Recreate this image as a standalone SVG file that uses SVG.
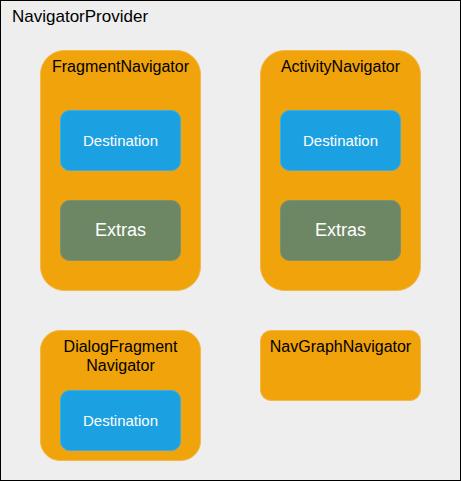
<svg xmlns="http://www.w3.org/2000/svg" width="461" height="481" viewBox="0 0 461 481">
<style>
.nav{fill:#f0a30a;stroke:#f2b84a;stroke-width:1}
.dest{fill:#1ba1e2;stroke:#3aaee6;stroke-width:1}
.ext{fill:#6d8764;stroke:#7a9270;stroke-width:1}
text{font-family:"Liberation Sans",Arial,sans-serif;text-anchor:middle}
.lbl{font-size:16px;fill:#000}
.dt{font-size:15px;fill:#fff}
.et{font-size:18px;fill:#fff}
</style>
<rect x="0.5" y="0.5" width="460" height="480" fill="#eeeeee" stroke="#000" stroke-width="1"/>
<text x="12" y="22" style="font-size:17px;text-anchor:start;fill:#000">NavigatorProvider</text>
<g id="fragmentNavigator">
<rect class="nav" x="40.5" y="50.5" width="160" height="240" rx="24"/>
<text class="lbl" x="120.5" y="72">FragmentNavigator</text>
</g>
<g id="fragmentDestination">
<rect class="dest" x="60.5" y="110.5" width="120" height="60" rx="9"/>
<text class="dt" x="120.5" y="145.5">Destination</text>
</g>
<g id="fragmentExtras">
<rect class="ext" x="60.5" y="200.5" width="120" height="60" rx="9"/>
<text class="et" x="120.5" y="236">Extras</text>
</g>
<g id="activityNavigator">
<rect class="nav" x="260.5" y="50.5" width="160" height="240" rx="24"/>
<text class="lbl" x="340.5" y="72">ActivityNavigator</text>
</g>
<g id="activityDestination">
<rect class="dest" x="280.5" y="110.5" width="120" height="60" rx="9"/>
<text class="dt" x="340.5" y="145.5">Destination</text>
</g>
<g id="activityExtras">
<rect class="ext" x="280.5" y="200.5" width="120" height="60" rx="9"/>
<text class="et" x="340.5" y="236">Extras</text>
</g>
<g id="dialogFragmentNavigator">
<rect class="nav" x="40.5" y="330.5" width="160" height="130" rx="19.5"/>
<text class="lbl" x="120.5" y="352">DialogFragment</text>
<text class="lbl" x="120.5" y="371">Navigator</text>
</g>
<g id="dialogDestination">
<rect class="dest" x="60.5" y="390.5" width="120" height="60" rx="9"/>
<text class="dt" x="120.5" y="425.5">Destination</text>
</g>
<g id="navGraphNavigator">
<rect class="nav" x="260.5" y="330.5" width="160" height="70" rx="10.5"/>
<text class="lbl" x="340.5" y="352">NavGraphNavigator</text>
</g>
<g id="connectors"></g>
</svg>
